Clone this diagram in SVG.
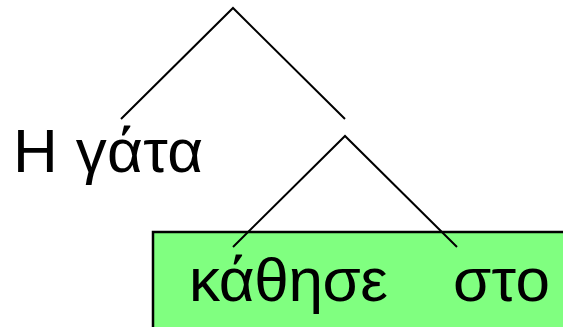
<svg xmlns="http://www.w3.org/2000/svg" width="563" height="327" viewBox="0 0 563 327">
<style>
.t{font-family:"Liberation Sans",Arial,sans-serif;font-size:62px;fill:#000}
.l{stroke:#000;stroke-width:2;fill:none}
</style>
<rect width="563" height="327" fill="#fff"/>
<g id="box">
<rect x="153" y="232" width="420" height="104" fill="#80ff80" stroke="#000" stroke-width="2.5"/>
</g>
<g id="connectors">
<path class="l" d="M121 119L233 8L345 119"/>
<path class="l" d="M233 247L345 136L457 247"/>
</g>
<g id="node-gata"><text class="t" x="13" y="172" textLength="190" lengthAdjust="spacing">Η γάτα</text></g>
<g id="node-kathise"><text class="t" x="189" y="301" textLength="199" lengthAdjust="spacing">κάθησε</text></g>
<g id="node-sto"><text class="t" x="453" y="301" textLength="97" lengthAdjust="spacing">στο</text></g>
</svg>
